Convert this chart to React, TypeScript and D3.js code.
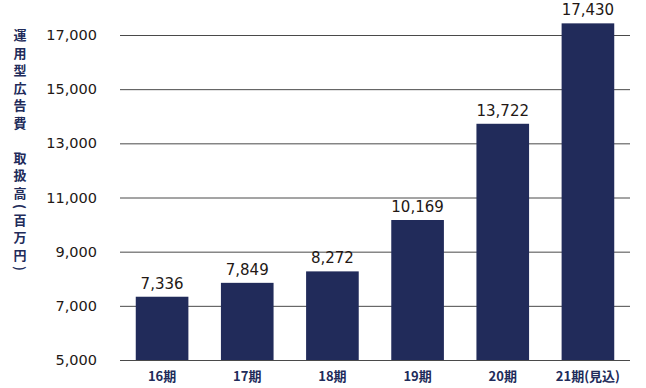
import React, { useEffect, useRef } from 'react';
import * as d3 from 'd3';

const periods = ['16期', '17期', '18期', '19期', '20期', '21期(見込)'];
const amounts = [7336, 7849, 8272, 10169, 13722, 17430];
const yTicks = [5000, 7000, 9000, 11000, 13000, 15000, 17000];
const yTitle = '運用型広告費\u3000取扱高(百万円)';

const NAVY = '#212b5a';

const App = () => {
  const svgRef = useRef<SVGSVGElement>(null);

  useEffect(() => {
    const svg = d3.select(svgRef.current);
    svg.selectAll('*').remove();

    const width = 646;
    const height = 388;
    const margin = { top: 35, right: 16, bottom: 28, left: 120 };

    const x = d3
      .scaleBand()
      .domain(periods)
      .range([margin.left, width - margin.right])
      .paddingInner(0.382)
      .paddingOuter(0.185);

    const y = d3
      .scaleLinear()
      .domain([5000, 17000])
      .range([height - margin.bottom, margin.top]);

    const data = periods.map((p, i) => ({ period: p, value: amounts[i] }));

    // grid + axis
    const yAxis = d3
      .axisLeft(y)
      .tickValues(yTicks)
      .tickSize(-(width - margin.right - margin.left))
      .tickPadding(23)
      .tickFormat(d3.format(','));

    const gy = svg
      .append('g')
      .attr('transform', `translate(${margin.left},0)`)
      .call(yAxis);
    gy.select('.domain').remove();
    gy.selectAll('.tick line').attr('stroke', '#4a4a4a').attr('stroke-width', 1);
    gy.selectAll('.tick text')
      .attr('fill', '#231815')
      .attr('font-size', 14.5)
      .attr('font-family', '"DejaVu Sans", sans-serif');

    // bars
    svg
      .append('g')
      .selectAll('rect')
      .data(data)
      .join('rect')
      .attr('x', (d) => x(d.period)!)
      .attr('y', (d) => y(d.value))
      .attr('width', x.bandwidth())
      .attr('height', (d) => y(5000) - y(d.value))
      .attr('fill', NAVY);

    // value labels
    svg
      .append('g')
      .selectAll('text')
      .data(data)
      .join('text')
      .attr('x', (d) => x(d.period)! + x.bandwidth() / 2)
      .attr('y', (d) => y(d.value) - 8)
      .attr('text-anchor', 'middle')
      .attr('fill', '#231815')
      .attr('font-size', 15)
      .attr('font-family', '"DejaVu Sans", sans-serif')
      .text((d) => d3.format(',')(d.value));

    // x labels
    svg
      .append('g')
      .selectAll('text')
      .data(data)
      .join('text')
      .attr('x', (d) => x(d.period)! + x.bandwidth() / 2)
      .attr('y', height - 7)
      .attr('text-anchor', 'middle')
      .attr('fill', NAVY)
      .attr('font-size', 13)
      .attr('font-weight', 'bold')
      .attr('font-family', '"Noto Sans CJK JP", sans-serif')
      .text((d) => d.period);

    // vertical title
    svg
      .append('text')
      .attr('x', 20)
      .attr('y', 29)
      .attr('fill', NAVY)
      .attr('font-size', 13)
      .attr('font-weight', 'bold')
      .attr('font-family', '"Noto Sans CJK JP", sans-serif')
      .style('writing-mode', 'vertical-rl')
      .style('letter-spacing', '4.5px')
      .text(yTitle);
  }, []);

  return (
    <svg
      ref={svgRef}
      width={646}
      height={388}
      style={{ position: 'absolute', left: 0, top: 0, background: '#fff' }}
    />
  );
};

export default App;
